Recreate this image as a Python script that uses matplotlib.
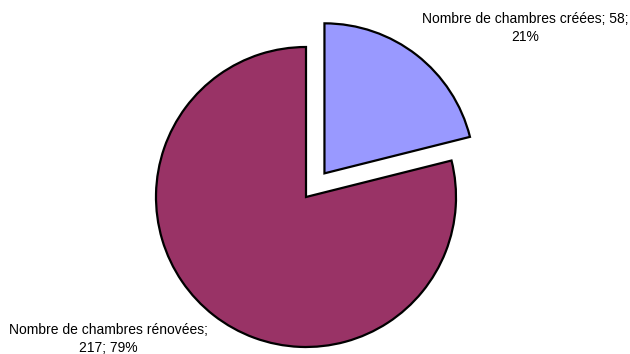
import matplotlib
matplotlib.use('Agg')
import matplotlib.pyplot as plt

labels = ['Nombre de chambres créées', 'Nombre de chambres rénovées']
values = [58, 217]
colors = ['#9999FF', '#993366']
explode = [0.2, 0.0]  # fraction of the radius

plt.rcParams['font.family'] = ['Liberation Sans', 'DejaVu Sans']

fig = plt.figure(figsize=(6.3, 3.54), dpi=100)
ax = fig.add_axes([0, 0, 1, 1])
ax.set_xlim(0, 630)
ax.set_ylim(0, 354)
ax.set_aspect('equal')
ax.axis('off')

radius = 150
# pie() offsets exploded wedges in data units, so scale by the radius
ax.pie(values, colors=colors, explode=[e * radius for e in explode],
       startangle=90, counterclock=False,
       center=(306, 157), radius=radius,
       wedgeprops=dict(edgecolor='black', linewidth=1.6))

total = sum(values)
pcts = [round(v / total * 100) for v in values]

ax.text(525, 326, f'{labels[0]}; {values[0]};\n{pcts[0]}%', ha='center', va='center',
        fontsize=10, linespacing=1.35)
ax.text(108, 15, f'{labels[1]};\n{values[1]}; {pcts[1]}%', ha='center', va='center',
        fontsize=10, linespacing=1.35)

ax.set_xlim(0, 630)
ax.set_ylim(0, 354)

fig.savefig('out.png', dpi=100)
